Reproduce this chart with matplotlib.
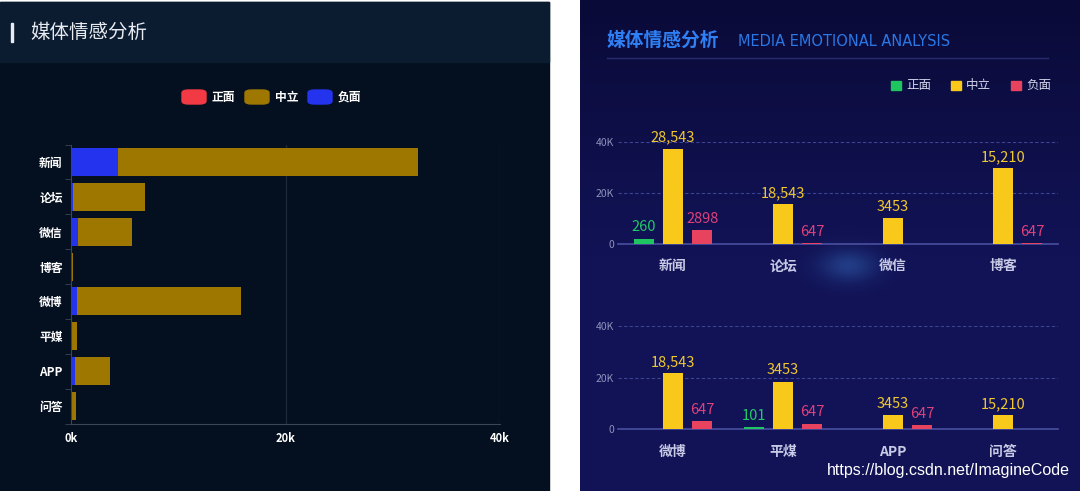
import numpy as np
import matplotlib
matplotlib.use('Agg')
import matplotlib.pyplot as plt
from matplotlib.patches import Rectangle, FancyBboxPatch
from matplotlib.lines import Line2D

plt.rcParams['font.family'] = ['Noto Sans CJK SC', 'DejaVu Sans']

# ---------------- data: left panel (stacked horizontal bars) ----------------
left_cats = ['新闻', '论坛', '微信', '博客', '微博', '平媒', 'APP', '问答']
left_neg = [4400, 160, 620, 0, 555, 0, 390, 0]
left_neu = [28000, 6700, 5060, 230, 15270, 590, 3200, 420]
left_pos = [0, 0, 0, 0, 0, 0, 0, 0]
left_ticks = [0, 20000, 40000]
left_ticklabels = ['0k', '20k', '40k']

# ---------------- data: right panel (grouped vertical bars) ----------------
top_cats = ['新闻', '论坛', '微信', '博客']
top_pos = [2100, 0, 0, 0]
top_neu = [37200, 15600, 10000, 29600]
top_neg = [5300, 400, 0, 400]
top_pos_lbl = ['260', '', '', '']
top_neu_lbl = ['28,543', '18,543', '3453', '15,210']
top_neg_lbl = ['2898', '647', '', '647']

bot_cats = ['微博', '平煤', 'APP', '问答']
bot_pos = [0, 780, 0, 0]
bot_neu = [21700, 18450, 5400, 5400]
bot_neg = [3100, 2200, 1550, 0]
bot_pos_lbl = ['', '101', '', '']
bot_neu_lbl = ['18,543', '3453', '3453', '15,210']
bot_neg_lbl = ['647', '647', '647', '']

right_ticks = [0, 20000, 40000]
right_ticklabels = ['0', '20K', '40K']
legend_names = ['正面', '中立', '负面']

W, H = 1080, 491
fig = plt.figure(figsize=(W / 100, H / 100), dpi=100, facecolor='white')


def fax(x0, y0, x1, y1):
    # axes from pixel box (top-left origin)
    return fig.add_axes([x0 / W, 1 - y1 / H, (x1 - x0) / W, (y1 - y0) / H])


def frect(x0, y0, x1, y1, **kw):
    fig.add_artist(Rectangle((x0 / W, 1 - y1 / H), (x1 - x0) / W, (y1 - y0) / H,
                             transform=fig.transFigure, **kw))


def ftext(x, y, s, **kw):
    fig.text(x / W, 1 - y / H, s, **kw)


############## Left panel #################
frect(0, 2, 549, 491, color='#04101f', zorder=0)
frect(0, 2, 549, 62, color='#0b1b30', zorder=0)
frect(11, 23, 13, 42, color='#e8ecf0')
ftext(30, 32, '媒体情感分析', color='#e8ecf0', fontsize=14, va='center', ha='left')

c_pos, c_neu, c_neg = '#f23a45', '#9e7700', '#2433ee'
for x, c, name in zip([182, 245, 308], [c_pos, c_neu, c_neg], legend_names):
    fig.add_artist(FancyBboxPatch((x / W, 1 - 104 / H), 24 / W, 14 / H,
                                  boxstyle='round,pad=0,rounding_size=0.006',
                                  transform=fig.transFigure, color=c))
    ftext(x + 30, 97, name, color='white', fontsize=8.5, fontweight='bold',
          va='center', ha='left')

axl = fax(71, 144.5, 500, 423.5)
axl.set_facecolor('none')
y = np.arange(len(left_cats))
left_pos_arr = np.array(left_pos)
left_neg_arr = np.array(left_neg)
axl.barh(y, left_pos, height=0.8, color=c_pos)
axl.barh(y, left_neg, left=left_pos_arr, height=0.8, color=c_neg)
axl.barh(y, left_neu, left=left_pos_arr + left_neg_arr, height=0.8, color=c_neu)
axl.set_xlim(0, 40000)
axl.set_ylim(len(left_cats) - 0.5, -0.5)
axl.set_xticks(left_ticks)
axl.set_xticklabels(left_ticklabels, color='white', fontsize=8, fontweight='bold')
axl.set_yticks(y)
axl.set_yticklabels(left_cats, color='white', fontsize=8.5, fontweight='bold')
axl.set_yticks(np.arange(-0.5, len(left_cats)), minor=True)
axl.tick_params(axis='both', which='major', length=0, pad=6)
axl.tick_params(axis='y', which='minor', length=4, color='#3a4658')
for v, c in zip([20000, 40000], ['#1c2a3c', '#2a2444']):
    axl.axvline(v, color=c, lw=0.9, zorder=0)
for s in ['top', 'right']:
    axl.spines[s].set_visible(False)
for s in ['bottom', 'left']:
    axl.spines[s].set_color('#3a4658')

############## Right panel #################
bg = fax(580, 0, 1080, 491)
yy, xx = np.mgrid[0:491, 0:500]
base = np.array([0.07, 0.075, 0.34])
top_dark = np.array([0.04, 0.04, 0.22])
t = np.clip(yy / 260.0, 0, 1)[..., None]
img = top_dark * (1 - t) + base * t
glow = np.exp(-(((xx - 268) / 28.0) ** 2 + ((yy - 265) / 16.0) ** 2))[..., None]
img = img + glow * np.array([0.06, 0.16, 0.18])
bg.imshow(np.clip(img, 0, 1), aspect='auto', extent=(0, 500, 491, 0))
bg.axis('off')

ftext(607, 40, '媒体情感分析', color='#2f80f5', fontsize=13.5, fontweight='bold',
      va='center', ha='left')
ftext(738, 41, 'MEDIA EMOTIONAL ANALYSIS', color='#2a78e6', fontsize=10.5,
      family='DejaVu Sans', va='center', ha='left')
fig.add_artist(Line2D([607 / W, 1048 / W], [1 - 58 / H, 1 - 58 / H],
                      transform=fig.transFigure, color='#262c6e', lw=1))

r_pos, r_neu, r_neg = '#1fc65f', '#f8c91a', '#e8435e'
l_pos, l_neu, l_neg = '#22c86a', '#f0c830', '#e0407a'
for x, c, name in zip([891, 951, 1011], [r_pos, r_neu, r_neg], legend_names):
    frect(x, 81, x + 10, 90, color=c)
    ftext(x + 15, 85.5, name, color='#d0d2ea', fontsize=9, va='center', ha='left')


def group_chart(box, cats, pos, neu, neg, pos_lbl, neu_lbl, neg_lbl):
    ax = fax(*box)
    ax.set_facecolor('none')
    x = np.arange(len(cats))
    w, off = 0.18, 0.265
    series = [(x - off, pos, pos_lbl, r_pos, l_pos),
              (x, neu, neu_lbl, r_neu, l_neu),
              (x + off, neg, neg_lbl, r_neg, l_neg)]
    for xs, vals, lbls, c, lc in series:
        ax.bar(xs, vals, width=w, color=c, zorder=3)
        for xi, v, s in zip(xs, vals, lbls):
            if s:
                ax.annotate(s, (xi, v), xytext=(0, 3), textcoords='offset points',
                            ha='center', va='bottom', color=lc, fontsize=10.5,
                            annotation_clip=False)
    ax.set_xlim(-0.5, len(cats) - 0.5)
    ax.set_ylim(0, 40000)
    ax.set_xticks(x)
    ax.set_xticklabels(cats, color='#c8cae6', fontsize=10, fontweight='bold')
    ax.set_yticks(right_ticks)
    ax.set_yticklabels(right_ticklabels, color='#8e92bc', fontsize=7.5)
    ax.tick_params(axis='x', length=0, pad=11)
    ax.tick_params(axis='y', length=0, pad=3)
    for v in right_ticks[1:]:
        ax.axhline(v, color='#3e4494', lw=0.8, ls=(0, (3, 2)), zorder=1)
    for s in ['top', 'right', 'left']:
        ax.spines[s].set_visible(False)
    ax.spines['bottom'].set_color('#4a50a0')
    ax.spines['bottom'].set_linewidth(1.2)
    return ax


group_chart((618, 141.7, 1058, 244), top_cats, top_pos, top_neu, top_neg,
            top_pos_lbl, top_neu_lbl, top_neg_lbl)
group_chart((618, 326, 1058, 429.3), bot_cats, bot_pos, bot_neu, bot_neg,
            bot_pos_lbl, bot_neu_lbl, bot_neg_lbl)

ftext(1070, 471, 'https://blog.csdn.net/ImagineCode', color='white', fontsize=11.5,
      family='Liberation Sans', va='center', ha='right')

fig.savefig('out.png', dpi=100, facecolor=fig.get_facecolor())
